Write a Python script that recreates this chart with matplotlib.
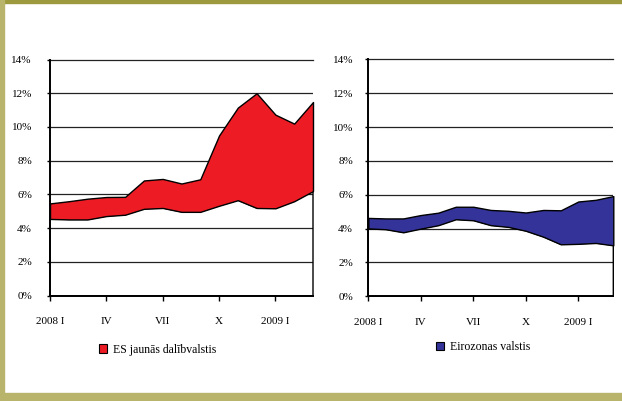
import numpy as np
import matplotlib
matplotlib.use("Agg")
import matplotlib.pyplot as plt
from matplotlib.patches import Patch, Rectangle

# months since Jan 2008 (2008 I ... 2009 III)
months = list(range(15))
tick_pos = [0, 3, 6, 9, 12]
tick_labels = ["2008 I", "IV", "VII", "X", "2009 I"]
y_ticks = [0, 2, 4, 6, 8, 10, 12, 14]

# new EU member states: lower / upper bound of the band (%)
new_low = [4.55, 4.52, 4.52, 4.72, 4.8, 5.15, 5.2, 4.97, 4.97, 5.33, 5.66, 5.2, 5.18, 5.6, 6.2]
new_high = [5.47, 5.6, 5.75, 5.85, 5.86, 6.83, 6.92, 6.65, 6.9, 9.5, 11.15, 12.0, 10.73, 10.2, 11.48]

# euro area countries
euro_low = [4.01, 3.96, 3.78, 4.0, 4.2, 4.55, 4.49, 4.2, 4.1, 3.87, 3.52, 3.07, 3.1, 3.15, 3.01]
euro_high = [4.63, 4.6, 4.6, 4.8, 4.94, 5.29, 5.29, 5.1, 5.05, 4.95, 5.1, 5.08, 5.6, 5.7, 5.92]

W, H = 622, 401
fig = plt.figure(figsize=(W / 100, H / 100), dpi=100)
plt.rcParams['font.family'] = ['Liberation Serif', 'DejaVu Serif']

# olive frame around the slide
fig.patches.append(Rectangle((0, 1 - 2.5 / H), 1, 2.5 / H, transform=fig.transFigure,
                             color='#9c9a3c', zorder=0))
fig.patches.append(Rectangle((0, 0), 4 / W, 1, transform=fig.transFigure,
                             color='#b8b46c', zorder=0))
fig.patches.append(Rectangle((0, 0), 1, 8 / H, transform=fig.transFigure,
                             color='#b8b46c', zorder=0))


def draw_panel(rect, low, high, color, label, leg_xy, ylab_pad):
    ax = fig.add_axes(rect)
    ax.set_xlim(0, 14)
    ax.set_ylim(0, 14)
    for v in y_ticks[1:]:
        ax.axhline(v, color='#222222', lw=0.9, zorder=1, clip_on=(v != 14))
    ax.fill_between(months, 0, low, facecolor='none', edgecolor='black', lw=1.0,
                    zorder=2, clip_on=False)
    ax.fill_between(months, low, high, facecolor=color, edgecolor='black', lw=1.0,
                    zorder=3, clip_on=False)
    for s in ['top', 'right']:
        ax.spines[s].set_visible(False)
    for s in ['left', 'bottom']:
        ax.spines[s].set_linewidth(1.4)
        ax.spines[s].set_zorder(4)
    ax.set_xticks(tick_pos)
    ax.set_xticklabels(tick_labels)
    ax.set_yticks(y_ticks)
    ax.set_yticklabels([f"{v}%" for v in y_ticks])
    ax.tick_params(axis='x', length=3.5, width=1, pad=12, labelsize=8)
    ax.tick_params(axis='y', length=2, width=1, pad=ylab_pad, labelsize=8)
    fig.legend(handles=[Patch(facecolor=color, edgecolor='black', lw=0.8, label=label)],
               loc='center left', bbox_to_anchor=leg_xy, frameon=False,
               borderpad=0, borderaxespad=0, handlelength=0.7, handleheight=0.7,
               handletextpad=0.45, fontsize=8.5)
    return ax


draw_panel([50 / W, 1 - 295.7 / H, 263 / W, 236.2 / H], new_low, new_high, '#ed1c24',
           'ES jaunās dalībvalstis', (99 / W, 1 - 349.5 / H), 11)
draw_panel([368.3 / W, 1 - 296.3 / H, 245 / W, 237 / H], euro_low, euro_high, '#333399',
           'Eirozonas valstis', (436 / W, 1 - 347 / H), 9)

fig.savefig("out.png", dpi=100)
